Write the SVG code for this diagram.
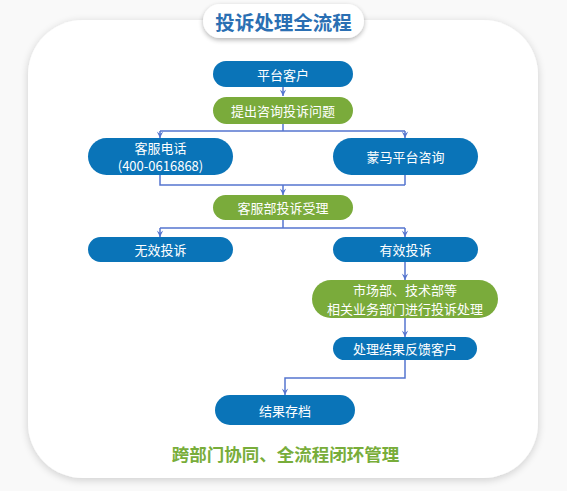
<svg xmlns="http://www.w3.org/2000/svg" width="567" height="491" viewBox="0 0 567 491">
<defs>
<filter id="sh" x="-20%" y="-20%" width="140%" height="140%">
<feGaussianBlur in="SourceAlpha" stdDeviation="4"/>
<feOffset dx="0" dy="2"/>
<feComponentTransfer><feFuncA type="linear" slope="0.18"/></feComponentTransfer>
<feMerge><feMergeNode/><feMergeNode in="SourceGraphic"/></feMerge>
</filter>
<filter id="sh2" x="-20%" y="-40%" width="140%" height="180%">
<feGaussianBlur in="SourceAlpha" stdDeviation="2.5"/>
<feOffset dx="0" dy="2"/>
<feComponentTransfer><feFuncA type="linear" slope="0.3"/></feComponentTransfer>
<feMerge><feMergeNode/><feMergeNode in="SourceGraphic"/></feMerge>
</filter>
<marker id="arr" viewBox="0 0 10 10" refX="9" refY="5" markerWidth="8" markerHeight="8" orient="auto" markerUnits="userSpaceOnUse">
<path d="M1,1 L9,5 L1,9 L4,5 Z" fill="#5575cf"/>
</marker>
<style>
.blue{fill:#0a74b8}
.green{fill:#7aab3b}
.t{font-family:"Noto Sans CJK SC","Liberation Sans",sans-serif;font-size:13px;fill:#ffffff;text-anchor:middle;dominant-baseline:central}
.c{fill:none;stroke:#5575cf;stroke-width:1.5}
</style>
</defs>
<rect x="0" y="0" width="567" height="491" fill="#f9f9f9"/>
<rect x="28" y="20" width="510" height="458" rx="55" fill="#ffffff" filter="url(#sh)"/>
<g id="title">
<rect x="203" y="4" width="161" height="34" rx="17" fill="#ffffff" filter="url(#sh2)"/>
<text x="283.5" y="21" font-family="Noto Sans CJK SC,sans-serif" font-size="19.5" font-weight="bold" fill="#2a6fb3" text-anchor="middle" dominant-baseline="central">投诉处理全流程</text>
</g>
<g id="connectors">
<path class="c" d="M283,87 V96" marker-end="url(#arr)"/>
<path class="c" d="M283,124 V131 M160,131 H405"/>
<path class="c" d="M160,131 V138" marker-end="url(#arr)"/>
<path class="c" d="M405,131 V138" marker-end="url(#arr)"/>
<path class="c" d="M160,175 V185 H405 M405,175 V185"/>
<path class="c" d="M283,185 V195" marker-end="url(#arr)"/>
<path class="c" d="M283,220 V228 M160,228 H405"/>
<path class="c" d="M160,228 V237" marker-end="url(#arr)"/>
<path class="c" d="M405,228 V237" marker-end="url(#arr)"/>
<path class="c" d="M405,262 V280" marker-end="url(#arr)"/>
<path class="c" d="M405,318 V337" marker-end="url(#arr)"/>
<path class="c" d="M405,360 V378 H285 V395" marker-end="url(#arr)"/>
</g>
<g id="n1"><rect class="blue" x="213" y="61" width="140" height="26" rx="13"/><text class="t" x="283" y="74">平台客户</text></g>
<g id="n2"><rect class="green" x="213" y="97" width="140" height="27" rx="13.5"/><text class="t" x="283" y="110.5">提出咨询投诉问题</text></g>
<g id="n3"><rect class="blue" x="88" y="138" width="145" height="37" rx="18.5"/><text class="t" x="160.5" y="147.5">客服电话</text><text class="t" x="160.5" y="165">(400-0616868)</text></g>
<g id="n4"><rect class="blue" x="333" y="138" width="145" height="37" rx="18.5"/><text class="t" x="405.5" y="156.5">蒙马平台咨询</text></g>
<g id="n5"><rect class="green" x="213" y="195" width="140" height="25" rx="12.5"/><text class="t" x="283" y="207.5">客服部投诉受理</text></g>
<g id="n6"><rect class="blue" x="88" y="237" width="145" height="25" rx="12.5"/><text class="t" x="160.5" y="249.5">无效投诉</text></g>
<g id="n7"><rect class="blue" x="333" y="237" width="145" height="25" rx="12.5"/><text class="t" x="405.5" y="249.5">有效投诉</text></g>
<g id="n8"><rect class="green" x="312" y="280" width="186" height="38" rx="19"/><text class="t" x="405" y="289.5">市场部、技术部等</text><text class="t" x="405" y="308.5">相关业务部门进行投诉处理</text></g>
<g id="n9"><rect class="blue" x="333" y="337" width="144" height="23" rx="11.5"/><text class="t" x="405" y="348.5">处理结果反馈客户</text></g>
<g id="n10"><rect class="blue" x="215" y="395" width="140" height="30" rx="15"/><text class="t" x="285" y="410">结果存档</text></g>
<text x="285.5" y="453" font-family="Noto Sans CJK SC,sans-serif" font-size="17.5" font-weight="bold" fill="#78ad3a" text-anchor="middle" dominant-baseline="central">跨部门协同、全流程闭环管理</text>
</svg>
